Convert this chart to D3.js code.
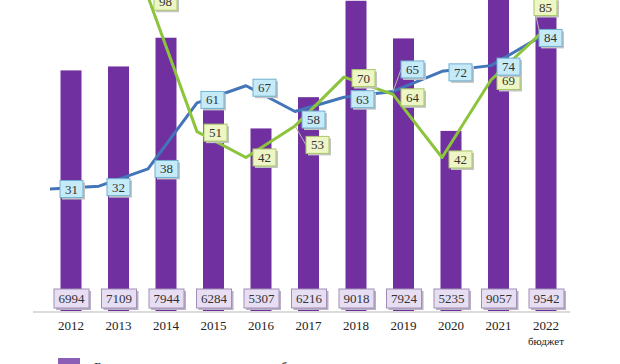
<!DOCTYPE html>
<html><head><meta charset="utf-8">
<script src="https://cdn.jsdelivr.net/npm/d3@7"></script>
<style>html,body{margin:0;padding:0;background:#fff;}svg{display:block;}</style>
</head><body>
<svg id="c" width="620" height="364"></svg>
<script>
const years = ["2012","2013","2014","2015","2016","2017","2018","2019","2020","2021","2022"];
const budgetVals = [6994,7109,7944,6284,5307,6216,9018,7924,5235,9057,9542];
const blueVals = [31,32,38,61,67,58,63,65,72,74,84];
const greenVals = [null,null,98,51,42,53,70,64,42,69,85];
const legendLabel = "Бюджетные ассигнования, млн руб.";

// label layout offsets (from line vertex)
const blueOff = [[21,0],[19,1],[18,0],[15,-3],[18,2],[18,8],[18,2],[19,-22],[18,1],[17,1],[10,1]];
const greenOff = [null,null,[17,5],[18,1],[18,0],[22,19],[19,1],[19,3],[18,2],[17,1],[5,-27]];

const svg = d3.select("#c");
const font = "'Liberation Serif','DejaVu Serif',serif";

const xBar = d3.scaleBand().domain(years).range([47.25, 569.75]).paddingInner(0.558).paddingOuter(0.279);
const yBar = d3.scaleLinear().domain([0, 10000]).range([311, -33]);
const xLine = d3.scalePoint().domain(years).range([50, 540]);
const yLine = d3.scaleLinear().domain([0, 100]).range([278, -9]);

// bars
svg.append("g").selectAll("rect").data(years).join("rect")
  .attr("x", d => xBar(d)).attr("width", xBar.bandwidth())
  .attr("y", (d,i) => yBar(budgetVals[i]))
  .attr("height", (d,i) => yBar(0) - yBar(budgetVals[i]))
  .attr("fill", "#7030a0");

// axis
const axis = svg.append("g").attr("transform", "translate(0,312)")
  .call(d3.axisBottom(xBar).tickSize(0).tickPadding(9));
axis.select(".domain").attr("stroke", "#cfcfcf").attr("stroke-width", 1.5)
  .attr("d", "M33,0H570");
axis.selectAll("text").attr("font-family", font).attr("font-size", 13).attr("fill", "#222");
svg.append("text").attr("x", xBar("2022") + xBar.bandwidth()/2).attr("y", 345)
  .attr("text-anchor", "middle").attr("font-family", font).attr("font-size", 11).attr("fill", "#222")
  .text("бюджет");

// bar value labels
const bl = svg.append("g");
years.forEach((y,i) => {
  const cx = xBar(y) + xBar.bandwidth()/2;
  bl.append("rect").attr("x", cx-17+2).attr("y", 289+2).attr("width", 35).attr("height", 19).attr("fill", "#b9b0c4");
  bl.append("rect").attr("x", cx-17).attr("y", 289).attr("width", 35).attr("height", 19)
    .attr("fill", "#e8def3").attr("stroke", "#9f8fb3").attr("stroke-width", 1);
  bl.append("text").attr("x", cx+0.5).attr("y", 303).attr("text-anchor", "middle")
    .attr("font-family", font).attr("font-size", 13).attr("fill", "#333").text(budgetVals[i]);
});

// lines
const lineGen = vals => d3.line().defined((d,i) => vals[i] != null)
  .x((d,i) => xLine(years[i])).y((d,i) => yLine(vals[i]));
svg.append("path").datum(blueVals).attr("d", lineGen(blueVals)(blueVals))
  .attr("fill", "none").attr("stroke", "#4375b9").attr("stroke-width", 3).attr("stroke-linejoin", "round");
svg.append("path").datum(greenVals).attr("d", lineGen(greenVals)(greenVals))
  .attr("fill", "none").attr("stroke", "#8cc43c").attr("stroke-width", 3).attr("stroke-linejoin", "round");

// leader lines
const lead = svg.append("g").attr("stroke", "#b8b8b8").attr("stroke-width", 1).attr("fill", "none");
[[blueVals, blueOff, 7], [greenVals, greenOff, 5], [greenVals, greenOff, 10]].forEach(([vals, off, i]) => {
  const vx = xLine(years[i]), vy = yLine(vals[i]);
  const lx = vx + off[i][0], ly = vy + off[i][1];
  lead.append("path").attr("d", `M${vx},${vy}L${lx-11},${ly}`);
});

function drawLabels(vals, off, fill, stroke) {
  const g = svg.append("g");
  vals.forEach((v,i) => {
    if (v == null) return;
    const cx = xLine(years[i]) + off[i][0], cy = yLine(v) + off[i][1];
    g.append("rect").attr("x", cx-11+2).attr("y", cy-8.5+2).attr("width", 23).attr("height", 17).attr("fill", "#c4c4c4");
    g.append("rect").attr("x", cx-11).attr("y", cy-8.5).attr("width", 23).attr("height", 17)
      .attr("fill", fill).attr("stroke", stroke).attr("stroke-width", 1);
    g.append("text").attr("x", cx+0.5).attr("y", cy+4.5).attr("text-anchor", "middle")
      .attr("font-family", font).attr("font-size", 13).attr("fill", "#333").text(v);
  });
}
drawLabels(greenVals, greenOff, "#eef6c6", "#a9c76a");
drawLabels(blueVals, blueOff, "#c6ebf8", "#6fb0d0");

// legend (cut off at bottom)
svg.append("rect").attr("x", 58).attr("y", 358).attr("width", 22).attr("height", 12).attr("fill", "#8a5fb5");
svg.append("text").attr("x", 94).attr("y", 371).attr("font-family", font).attr("font-size", 13)
  .attr("fill", "#222").text(legendLabel);
</script>
</body></html>
